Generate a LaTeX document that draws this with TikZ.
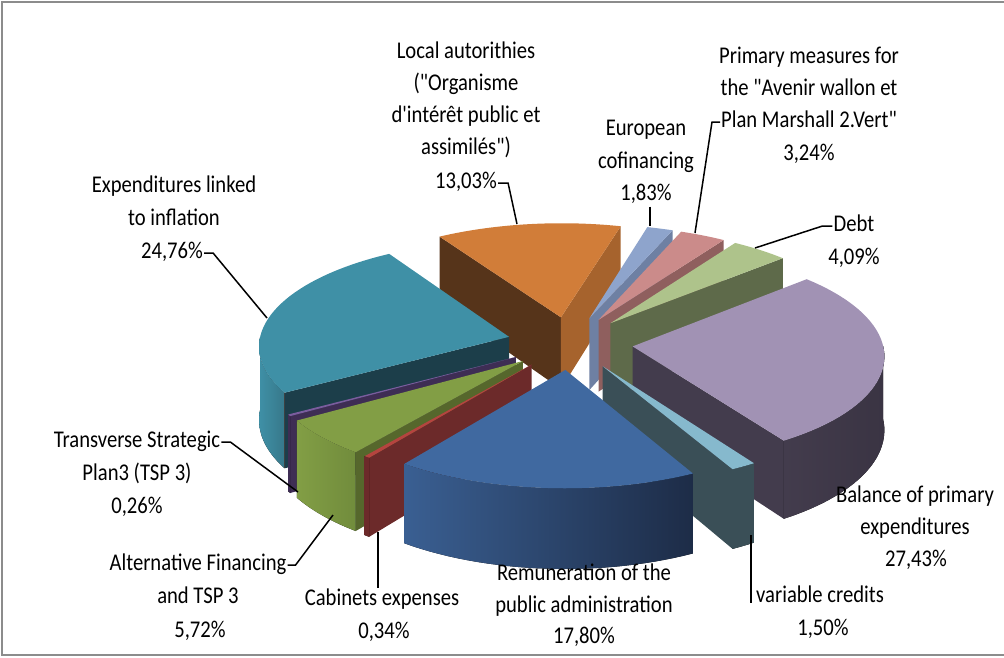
\documentclass[tikz,border=0pt]{standalone}
\usepackage{fontspec}
\setmainfont{Carlito}[FakeStretch=0.86, Ligatures=TeXOff]
\usetikzlibrary{calc}

% pie geometry (picture units = pixels, y runs down)
\def\pieX{570}
\def\pieY{343}
\def\pieR{250}
\def\pieK{0.42}
\def\pieE{63}
\def\pieH{73}
\def\pieP{0.0003}
\def\sliceU{0}
\def\sliceV{0}
\pgfmathdeclarefunction{px}{3}{\pgfmathparse{\pieX+(\sliceU+#2*sin(#1))/(1+\pieP*(\sliceV+#2*cos(#1)))}}
\pgfmathdeclarefunction{py}{3}{\pgfmathparse{\pieY+(-\pieK*(\sliceV+#2*cos(#1))+#3)/(1+\pieP*(\sliceV+#2*cos(#1)))}}

% #1 start, #2 end, #3 top, #4 start wall, #5 end wall, #6/#7 outer wall
\newcommand{\pieslice}[7]{%
  \pgfmathsetmacro\sliceM{(#1+#2)/2}%
  \pgfmathsetmacro\sliceU{\pieE*sin(\sliceM)}%
  \pgfmathsetmacro\sliceV{\pieE*cos(\sliceM)}%
  \pgfmathtruncatemacro\wallA{sin(#1)<0}%
  \pgfmathtruncatemacro\wallB{sin(#2)>0}%
  \pgfmathsetmacro\outA{max(#1,90)}%
  \pgfmathsetmacro\outB{min(#2,270)}%
  \pgfmathtruncatemacro\wallC{\outA<\outB}%
  \ifnum\wallA=1
    \fill[#4] ({px(0,0,0)},{py(0,0,0)}) -- ({px(#1,\pieR,0)},{py(#1,\pieR,0)})
      -- ({px(#1,\pieR,\pieH)},{py(#1,\pieR,\pieH)}) -- ({px(0,0,\pieH)},{py(0,0,\pieH)}) -- cycle;
  \fi
  \ifnum\wallB=1
    \fill[#5] ({px(0,0,0)},{py(0,0,0)}) -- ({px(#2,\pieR,0)},{py(#2,\pieR,0)})
      -- ({px(#2,\pieR,\pieH)},{py(#2,\pieR,\pieH)}) -- ({px(0,0,\pieH)},{py(0,0,\pieH)}) -- cycle;
  \fi
  \ifnum\wallC=1
    \fill[left color=#6,right color=#7]
      plot[domain=\outA:\outB,samples=30] ({px(\x,\pieR,0)},{py(\x,\pieR,0)})
      -- plot[domain=\outB:\outA,samples=30] ({px(\x,\pieR,\pieH)},{py(\x,\pieR,\pieH)}) -- cycle;
  \fi
  \fill[#3] ({px(0,0,0)},{py(0,0,0)})
    -- plot[domain=#1:#2,samples=40] ({px(\x,\pieR,0)},{py(\x,\pieR,0)}) -- cycle;
}

\definecolor{frameGray}{HTML}{8C8C8C}
\definecolor{locTop}{HTML}{D17D39}
\definecolor{locDark}{HTML}{56341A}
\definecolor{locSide}{HTML}{A6632D}
\definecolor{euTop}{HTML}{8EA4CC}
\definecolor{euSide}{HTML}{6E80A3}
\definecolor{pmTop}{HTML}{CB8B8A}
\definecolor{pmSide}{HTML}{8F5F5E}
\definecolor{debtTop}{HTML}{AEC38B}
\definecolor{debtSide}{HTML}{5E6A4A}
\definecolor{balTop}{HTML}{A192B4}
\definecolor{balSide}{HTML}{433C4D}
\definecolor{balOut}{HTML}{3A3443}
\definecolor{varTop}{HTML}{86B9CD}
\definecolor{varSide}{HTML}{3A4F57}
\definecolor{remTop}{HTML}{4069A0}
\definecolor{remLeft}{HTML}{3A5F92}
\definecolor{remRight}{HTML}{1D2C47}
\definecolor{cabTop}{HTML}{B5443F}
\definecolor{cabSide}{HTML}{6C2A2A}
\definecolor{altTop}{HTML}{829E45}
\definecolor{altSide}{HTML}{56672C}
\definecolor{altOut}{HTML}{718C3C}
\definecolor{tspTop}{HTML}{7B5C9E}
\definecolor{tspSide}{HTML}{3E2D54}
\definecolor{expTop}{HTML}{3F90A6}
\definecolor{expSide}{HTML}{1C3E4A}
\definecolor{expOut}{HTML}{37788A}

\tikzset{
  lbl/.style={font=\fontsize{24}{28}\selectfont, inner sep=1pt, text height=16pt, text depth=5pt},
  leader/.style={line width=1.5pt, black}
}

\begin{document}
\begin{tikzpicture}[x=1pt,y=-1pt]
  \useasboundingbox (0,0) rectangle (1004,657);
  \draw[line width=2pt, frameGray] (1010,2) -- (2,2) -- (2,655) -- (1010,655);

  %%% slices, back to front
  \pieslice{328.092}{375}{locTop}{locDark}{locSide}{locSide}{locSide}
  \pieslice{15}{21.588}{euTop}{euSide}{euSide}{euSide}{euSide}
  \pieslice{21.588}{33.252}{pmTop}{pmSide}{pmSide}{pmSide}{pmSide}
  \pieslice{33.252}{47.976}{debtTop}{debtSide}{debtSide}{debtSide}{debtSide}
  \pieslice{238.956}{328.092}{expTop}{expSide}{expSide}{expTop}{expOut}
  \pieslice{47.976}{146.724}{balTop}{balSide}{balSide}{balSide}{balOut}
  \pieslice{238.02}{238.956}{tspTop}{tspSide}{tspSide}{tspSide}{tspSide}
  \pieslice{217.428}{238.02}{altTop}{altSide}{altSide}{altTop}{altOut}
  \pieslice{216.204}{217.428}{cabTop}{cabSide}{cabSide}{cabSide}{cabSide}
  \pieslice{146.724}{152.124}{varTop}{varSide}{varSide}{varSide}{varSide}
  \pieslice{152.124}{216.204}{remTop}{remLeft}{remLeft}{remLeft}{remRight}

  %%% labels
  \node[lbl] (loc1) at (466,53) {Local autorithies};
  \node[lbl] (loc2) at (466,85) {("Organisme};
  \node[lbl] (loc3) at (466,117) {d'intérêt public et};
  \node[lbl] (loc4) at (466,149) {assimilés")};
  \node[lbl] (loc5) at (466,183) {13,03\%};

  \node[lbl] (eu1) at (646,130) {European};
  \node[lbl] (eu2) at (646,163) {cofinancing};
  \node[lbl] (eu3) at (646,195) {1,83\%};

  \node[lbl] (pm1) at (809,58) {Primary measures for};
  \node[lbl] (pm2) at (809,90) {the "Avenir wallon et};
  \node[lbl] (pm3) at (809,122) {Plan Marshall 2.Vert"};
  \node[lbl] (pm4) at (809,155) {3,24\%};

  \node[lbl] (debt1) at (854,226) {Debt};
  \node[lbl] (debt2) at (854,259) {4,09\%};

  \node[lbl] (exp1) at (174,187) {Expenditures linked};
  \node[lbl] (exp2) at (174,220) {to inflation};
  \node[lbl] (exp3) at (172,253) {24,76\%};

  \node[lbl] (tsp1) at (137,442) {Transverse Strategic};
  \node[lbl] (tsp2) at (137,475) {Plan3 (TSP 3)};
  \node[lbl] (tsp3) at (137,508) {0,26\%};

  \node[lbl] (alt1) at (198,565) {Alternative Financing};
  \node[lbl] (alt2) at (198,598) {and TSP 3};
  \node[lbl] (alt3) at (200,632) {5,72\%};

  \node[lbl] (cab1) at (382,600) {Cabinets expenses};
  \node[lbl] (cab2) at (384,633) {0,34\%};

  \node[lbl] (rem1) at (584,575) {Remuneration of the};
  \node[lbl] (rem2) at (584,607) {public administration};
  \node[lbl] (rem3) at (584,638) {17,80\%};

  \node[lbl] (bal1) at (915,497) {Balance of primary};
  \node[lbl] (bal2) at (915,529) {expenditures};
  \node[lbl] (bal3) at (916,561) {27,43\%};

  \node[lbl] (var1) at (820,597) {variable credits};
  \node[lbl] (var2) at (823,630) {1,50\%};

  %%% leader lines
  \coordinate (tipLoc) at (517,224);
  \coordinate (tipEu) at (650,226);
  \coordinate (tipPm) at (695,233);
  \coordinate (tipDebt) at (755,248);
  \coordinate (tipExp) at (267,318);
  \coordinate (tipTsp) at (298,492);
  \coordinate (tipAlt) at (333,515);
  \coordinate (tipCab) at (378,532);
  \coordinate (tipVar) at (751,535);

  \draw[leader] (loc5.east) -- ++(10,0) -- (tipLoc);
  \draw[leader] (tipEu |- eu3.south) -- (tipEu);
  \draw[leader] (pm3.west) -- ++(-8,0) -- (tipPm);
  \draw[leader] (debt1.west) -- ++(-10,0) -- (tipDebt);
  \draw[leader] (exp3.east) -- ++(9,0) -- (tipExp);
  \draw[leader] (tsp1.east) -- ++(9,0) -- (tipTsp);
  \draw[leader] (alt1.east) -- ++(8,0) -- (tipAlt);
  \draw[leader] (tipCab) -- (tipCab |- cab1.north);
  \draw[leader] (tipVar) -- (tipVar |- var1.base);
\end{tikzpicture}
\end{document}
